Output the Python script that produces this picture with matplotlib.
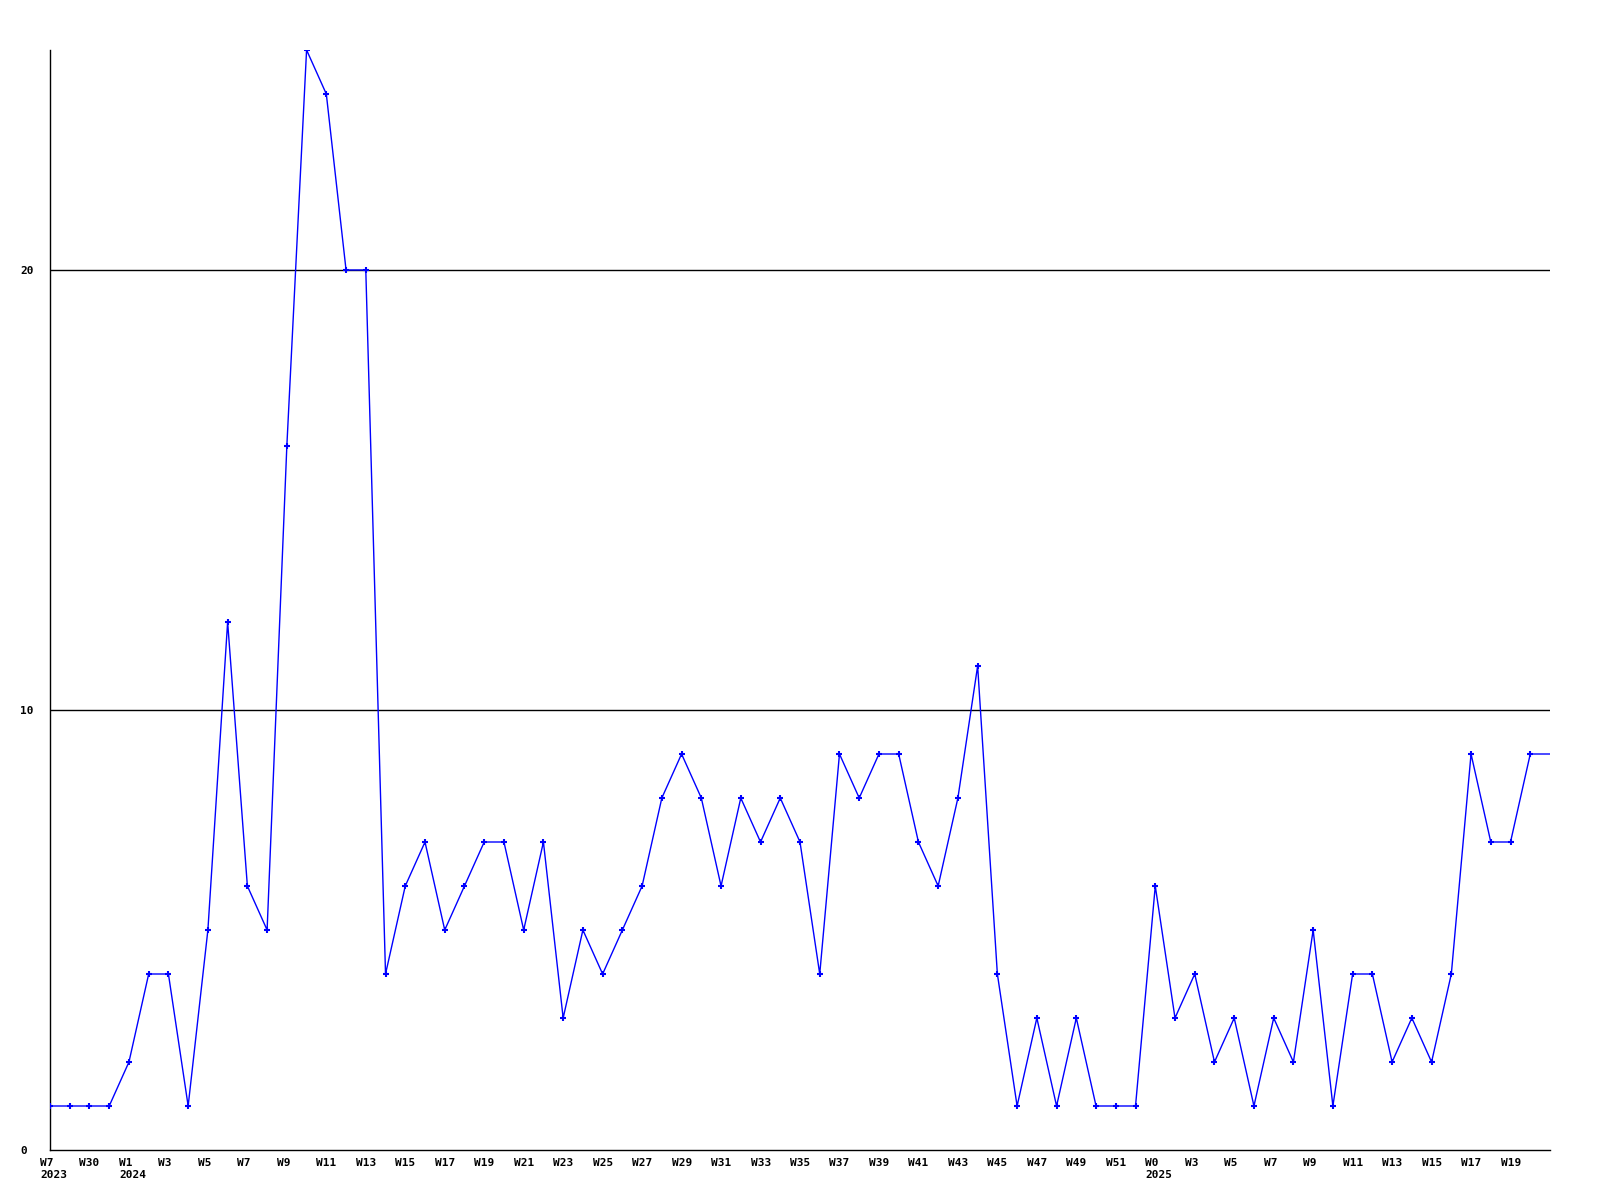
import matplotlib
matplotlib.use("Agg")
import matplotlib.pyplot as plt
import matplotlib.transforms as mtransforms

# Weekly counts (last value is the current, partial week; drawn without marker)
values = [1, 1, 1, 1, 2, 4, 4, 1, 5, 12, 6, 5, 16, 25, 24, 20, 20, 4, 6, 7,
          5, 6, 7, 7, 5, 7, 3, 5, 4, 5, 6, 8, 9, 8, 6, 8, 7, 8, 7, 4,
          9, 8, 9, 9, 7, 6, 8, 11, 4, 1, 3, 1, 3, 1, 1, 1, 6, 3, 4, 2,
          3, 1, 3, 2, 5, 1, 4, 4, 2, 3, 2, 4, 9, 7, 7, 9, 9]

# Tick labels shown at every other week
tick_labels = (["W7\n2023", "W30", "W1\n2024"]
               + ["W%d" % w for w in range(3, 52, 2)]
               + ["W0\n2025"]
               + ["W%d" % w for w in range(3, 20, 2)])

y_ticks = [0, 10, 20]

fig = plt.figure(figsize=(16, 12), dpi=100)
ax = fig.add_axes([50 / 1600, 50 / 1200, 1500 / 1600, 1100 / 1200])

xs = list(range(len(values)))
ax.plot(xs, values, color="#0000ff", lw=1.0, marker="+", ms=4, mew=1.5,
        markevery=list(range(len(values) - 1)), zorder=3)

ax.set_xlim(0, len(values) - 1)
ax.set_ylim(0, 25)

for v in y_ticks[1:]:
    ax.axhline(v, color="black", lw=1, zorder=1)

for s in ["top", "right"]:
    ax.spines[s].set_visible(False)
for s in ["left", "bottom"]:
    ax.spines[s].set_color("black")
    ax.spines[s].set_linewidth(1)

font = dict(family="DejaVu Sans Mono", weight="bold", size=8)

ax.set_yticks(y_ticks)
ax.set_yticklabels([str(v) for v in y_ticks], **font)
ax.tick_params(axis="y", length=0, pad=21.6)
for lab in ax.get_yticklabels():
    lab.set_horizontalalignment("left")

ax.set_xticks(list(range(0, 2 * len(tick_labels), 2)))
ax.set_xticklabels(tick_labels, **font)
ax.tick_params(axis="x", length=0, pad=6)
offset = mtransforms.ScaledTranslation(-10 / 100, 0, fig.dpi_scale_trans)
for lab in ax.get_xticklabels():
    lab.set_horizontalalignment("left")
    lab.set_multialignment("left")
    lab.set_transform(lab.get_transform() + offset)

fig.savefig("out.png", dpi=100)
